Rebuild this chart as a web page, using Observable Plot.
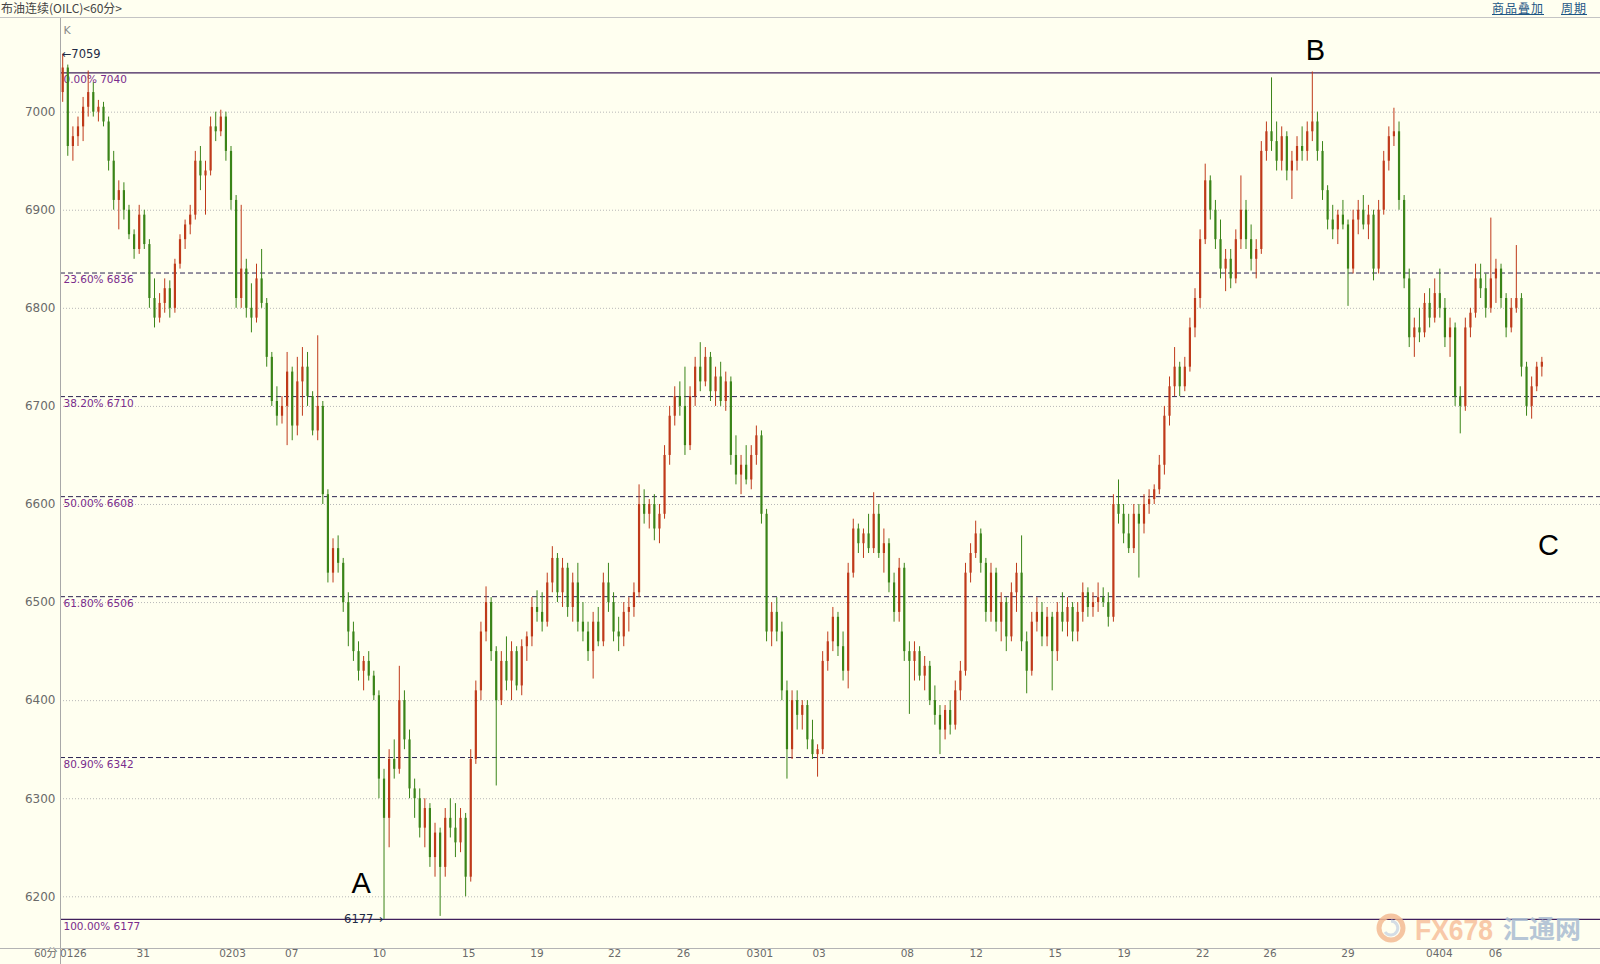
<!DOCTYPE html>
<html>
<head>
<meta charset="utf-8">
<script src="https://cdn.jsdelivr.net/npm/d3@7"></script>
<script src="https://cdn.jsdelivr.net/npm/@observablehq/plot@0.6"></script>
<style>
  html, body { margin: 0; padding: 0; background: #fffff0; }
  #wrap { position: relative; width: 1600px; height: 964px; background: #fffff0; overflow: hidden; }
  #hdr { position: absolute; left: 0; top: 0; width: 1600px; height: 17px; border-bottom: 1px solid #c4c4c4;
         font-family: "Noto Sans CJK SC", sans-serif; font-size: 12px; line-height: 16px; color: #444; }
  #title { position: absolute; left: 1px; top: 0; }
  .lnk { position: absolute; top: 0; color: #1e5685; text-decoration: underline; font-size: 12px; letter-spacing: 1px; }
  #chart { position: absolute; left: 0; top: 18px; }
  #vaxis { position: absolute; left: 60px; top: 18px; width: 1px; height: 946px; background: #a8a8a8; }
  #haxis { position: absolute; left: 0; top: 948px; width: 1600px; height: 1px; background: #b4b4b4; }
  #wm { position: absolute; left: 0; top: 0; pointer-events: none; }
</style>
</head>
<body>
<div id="wrap">
  <div id="hdr">
    <span id="title">布油连续(OILC)&lt;60分&gt;</span>
    <span class="lnk" style="left:1492px">商品叠加</span>
    <span class="lnk" style="left:1561px">周期</span>
  </div>
  <div id="chart"></div>
  <div id="vaxis"></div>
  <div id="haxis"></div>
  <svg id="wm" width="1600" height="964">
    <g opacity="0.85">
      <circle cx="1391" cy="928" r="12" fill="none" stroke="#f4bc94" stroke-width="5"/>
      <path d="M1391 921 A7 7 0 1 1 1385 932" fill="none" stroke="#cdd8e4" stroke-width="3"/>
      <text x="1415" y="940" font-family="Liberation Sans, sans-serif" font-weight="bold" font-size="30"
            fill="#f7c09c" textLength="78" lengthAdjust="spacingAndGlyphs">FX678</text>
      <text x="1503" y="938" font-family="Noto Sans CJK SC, sans-serif" font-weight="bold" font-size="25"
            fill="#aabdd2" textLength="78" lengthAdjust="spacingAndGlyphs">汇通网</text>
    </g>
  </svg>
</div>
<script>
// ---- data (Brent continuous, 60-minute candles, cents) ----
const opens = [
7020,7045,6965,6975,6985,7005,7020,7000,7005,6990,
6950,6910,6920,6900,6875,6860,6895,6865,6810,6790,
6805,6820,6800,6845,6870,6885,6895,6950,6935,6940,
6985,6980,6995,6960,6910,6810,6840,6800,6790,6830,
6805,6750,6705,6690,6700,6735,6680,6725,6740,6710,
6675,6700,6610,6530,6555,6540,6500,6470,6450,6430,
6440,6425,6405,6320,6280,6340,6330,6400,6360,6310,
6300,6270,6290,6240,6265,6230,6280,6270,6255,6280,
6220,6340,6410,6470,6500,6450,6400,6440,6420,6450,
6415,6455,6465,6495,6490,6480,6520,6545,6510,6535,
6495,6520,6480,6470,6450,6480,6460,6520,6500,6470,
6465,6490,6495,6510,6600,6590,6600,6575,6590,6650,
6690,6710,6700,6660,6710,6740,6725,6750,6715,6730,
6705,6725,6650,6630,6640,6625,6650,6670,6590,6470,
6490,6470,6410,6350,6400,6385,6395,6360,6345,6350,
6440,6460,6485,6455,6430,6530,6575,6560,6570,6555,
6590,6550,6560,6520,6490,6535,6450,6440,6450,6425,
6435,6400,6385,6370,6390,6375,6410,6430,6530,6550,
6570,6540,6490,6530,6480,6500,6465,6510,6530,6460,
6430,6480,6490,6465,6485,6450,6490,6480,6495,6470,
6490,6510,6495,6500,6505,6500,6485,6600,6590,6570,
6555,6590,6580,6600,6605,6615,6640,6690,6720,6740,
6720,6740,6780,6810,6870,6930,6900,6870,6840,6850,
6830,6870,6900,6870,6850,6860,6960,6980,6970,6950,
6975,6940,6950,6965,6960,6980,6990,6960,6920,6890,
6880,6895,6885,6840,6890,6900,6885,6895,6840,6900,
6950,6975,6980,6910,6830,6770,6780,6775,6805,6790,
6815,6800,6770,6780,6710,6700,6780,6795,6830,6820,
6800,6830,6840,6810,6780,6800,6810,6740,6700,6720,
6740];
const highs = [
7059,7048,6985,6995,7015,7042,7030,7012,7010,6995,
6960,6930,6928,6905,6880,6905,6900,6870,6830,6815,
6830,6828,6850,6875,6890,6905,6960,6965,6950,6995,
7000,7002,7000,6965,6915,6905,6850,6825,6845,6860,
6810,6755,6720,6710,6755,6740,6750,6760,6755,6715,
6772,6705,6615,6565,6568,6545,6510,6480,6460,6445,
6450,6430,6410,6330,6350,6360,6435,6410,6370,6320,
6310,6300,6295,6275,6270,6290,6300,6295,6290,6285,
6350,6420,6480,6516,6505,6455,6450,6465,6460,6455,
6462,6470,6505,6512,6510,6530,6557,6550,6545,6540,
6530,6540,6500,6480,6490,6495,6530,6540,6510,6485,
6500,6505,6520,6620,6615,6605,6610,6600,6660,6700,
6720,6725,6740,6720,6750,6765,6760,6755,6740,6745,
6735,6730,6670,6650,6660,6660,6680,6675,6595,6500,
6505,6480,6420,6410,6410,6400,6400,6380,6355,6450,
6470,6495,6490,6470,6540,6585,6580,6575,6590,6612,
6600,6575,6565,6530,6545,6540,6460,6460,6455,6445,
6440,6415,6395,6395,6400,6420,6440,6540,6560,6583,
6575,6545,6540,6535,6510,6505,6520,6540,6568,6470,
6490,6505,6500,6495,6490,6500,6510,6505,6500,6500,
6520,6515,6510,6520,6515,6510,6610,6625,6600,6590,
6600,6600,6610,6615,6620,6650,6700,6730,6760,6745,
6750,6790,6820,6880,6947,6935,6910,6890,6860,6860,
6880,6935,6910,6885,6870,6970,6990,7035,6990,6985,
6980,6960,6975,6985,6990,7041,7000,6970,6925,6905,
6900,6910,6890,6900,6910,6915,6905,6900,6910,6960,
6985,7004,6990,6915,6840,6790,6800,6815,6820,6830,
6840,6810,6790,6785,6720,6790,6800,6845,6845,6835,
6892,6850,6845,6815,6810,6864,6815,6745,6730,6745,
6750];
const lows = [
7010,6955,6950,6965,6970,6995,6995,6990,6985,6940,
6900,6880,6890,6870,6850,6855,6860,6800,6780,6785,
6795,6790,6795,6840,6860,6875,6890,6920,6895,6935,
6970,6975,6950,6900,6800,6800,6790,6775,6785,6800,
6740,6700,6680,6682,6660,6665,6670,6690,6700,6670,
6665,6600,6520,6520,6530,6490,6455,6440,6420,6410,
6420,6400,6300,6177,6250,6320,6325,6350,6300,6280,
6260,6250,6230,6220,6180,6220,6260,6240,6245,6200,
6215,6335,6400,6460,6440,6313,6395,6410,6400,6410,
6405,6440,6455,6480,6470,6475,6510,6500,6495,6485,
6480,6470,6460,6440,6422,6455,6455,6490,6460,6450,
6455,6470,6485,6505,6580,6575,6563,6560,6585,6640,
6680,6690,6650,6655,6700,6715,6720,6705,6700,6700,
6695,6640,6620,6610,6620,6615,6640,6580,6460,6455,
6460,6400,6320,6340,6370,6370,6350,6340,6322,6345,
6430,6450,6445,6420,6412,6525,6550,6545,6550,6550,
6545,6530,6510,6480,6480,6440,6386,6420,6420,6410,
6395,6375,6345,6360,6365,6370,6400,6425,6520,6545,
6530,6480,6480,6470,6460,6450,6460,6490,6450,6407,
6425,6470,6455,6455,6410,6440,6470,6465,6460,6460,
6480,6485,6485,6490,6495,6475,6480,6580,6560,6550,
6550,6525,6570,6590,6600,6610,6630,6680,6710,6710,
6715,6735,6770,6800,6865,6890,6860,6830,6817,6820,
6825,6860,6860,6838,6830,6855,6950,6960,6940,6940,
6930,6911,6940,6950,6950,6970,6950,6910,6880,6870,
6865,6880,6802,6835,6875,6880,6870,6828,6835,6895,
6940,6965,6900,6820,6760,6750,6765,6770,6780,6785,
6790,6760,6750,6700,6672,6695,6770,6790,6810,6790,
6795,6805,6800,6770,6775,6795,6730,6690,6687,6715,
6730];
const closes = [
7045,6965,6975,6985,7005,7020,7000,7005,6990,6950,
6910,6920,6900,6875,6860,6895,6865,6810,6790,6805,
6820,6800,6845,6870,6885,6895,6950,6935,6940,6985,
6980,6995,6960,6910,6810,6840,6800,6790,6830,6805,
6750,6705,6690,6700,6735,6680,6725,6740,6710,6675,
6700,6610,6530,6555,6540,6500,6470,6450,6430,6440,
6425,6405,6320,6280,6340,6330,6400,6360,6310,6300,
6270,6290,6240,6265,6230,6280,6270,6255,6280,6220,
6340,6410,6470,6500,6450,6400,6440,6420,6450,6415,
6455,6465,6495,6490,6480,6520,6545,6510,6535,6495,
6520,6480,6470,6450,6480,6460,6520,6500,6470,6465,
6490,6495,6510,6600,6590,6600,6575,6590,6650,6690,
6710,6700,6660,6710,6740,6725,6750,6715,6730,6705,
6725,6650,6630,6640,6625,6650,6670,6590,6470,6490,
6470,6410,6350,6400,6385,6395,6360,6345,6350,6440,
6460,6485,6455,6430,6530,6575,6560,6570,6555,6590,
6550,6560,6520,6490,6535,6450,6440,6450,6425,6435,
6400,6385,6370,6390,6375,6410,6430,6530,6550,6570,
6540,6490,6530,6480,6500,6465,6510,6530,6460,6430,
6480,6490,6465,6485,6450,6490,6480,6495,6470,6490,
6510,6495,6500,6505,6500,6485,6600,6590,6570,6555,
6590,6580,6600,6605,6615,6640,6690,6720,6740,6720,
6740,6780,6810,6870,6930,6900,6870,6840,6850,6830,
6870,6900,6870,6850,6860,6960,6980,6970,6950,6975,
6940,6950,6965,6960,6980,6990,6960,6920,6890,6880,
6895,6885,6840,6890,6900,6885,6895,6840,6900,6950,
6975,6980,6910,6830,6770,6780,6775,6805,6790,6815,
6800,6770,6780,6710,6700,6780,6795,6830,6820,6800,
6830,6840,6810,6780,6800,6810,6740,6700,6720,6740,
6745];

// date tick labels and the candle position they sit at
const dayLabels = ["0126","31","0203","07","10","15","19","22","26","0301","03","08","12","15","19","22","26","29","0404","06"];
const dayPos    = [2.1, 15.8, 33.3, 44.9, 62.1, 79.6, 93.0, 108.2, 121.7, 136.7, 148.3, 165.6, 179.1, 194.6, 208.1, 223.5, 236.7, 252.0, 269.9, 280.9];

// price axis ticks
const yTicks = [6200, 6300, 6400, 6500, 6600, 6700, 6800, 6900, 7000];

// Fibonacci retracement levels between 7040 (B) and 6177 (A)
const fibPct = ["0.00%", "23.60%", "38.20%", "50.00%", "61.80%", "80.90%", "100.00%"];
const fibVal = [7040, 6836, 6710, 6608, 6506, 6342, 6177];

// wave labels
const waveLabels = ["A", "B", "C"];
const wavePos    = [58.5, 245.6, 291.3];
const waveVal    = [6213, 7063, 6558];

// extreme markers
const maxMark = {i: 0, v: 7059, t: "\u21907059"};
const minMark = {i: 63, v: 6177, t: "6177\u2192"};

// ---- build ----
const candles = closes.map((c, i) => ({i, o: opens[i], h: highs[i], l: lows[i], c}));
const up = candles.filter(d => d.c >= d.o);
const dn = candles.filter(d => d.c < d.o);
const fib = fibVal.map((v, k) => ({v, label: fibPct[k] + " " + v, solid: k === 0 || k === fibVal.length - 1}));
const days = dayLabels.map((t, k) => ({t, i: dayPos[k]}));
const waves = waveLabels.map((t, k) => ({t, i: wavePos[k], v: waveVal[k]}));

const UP = "#bf3a1a", DN = "#3a8418";

const chart = Plot.plot({
  width: 1600,
  height: 946,
  marginLeft: 60,
  marginRight: 0,
  marginTop: 0,
  marginBottom: 16,
  x: {type: "linear", domain: [-0.43, 301.5], axis: null},
  y: {domain: [6147.3, 7095.5], axis: null},
  style: {background: "transparent", fontFamily: "DejaVu Sans, sans-serif", overflow: "visible"},
  marks: [
    Plot.ruleY(yTicks, {stroke: "#b8b8b8", strokeDasharray: "1,2", strokeWidth: 1}),
    Plot.ruleY(fib.filter(d => !d.solid), {y: "v", stroke: "#2c2452", strokeDasharray: "5,3", strokeWidth: 1}),
    Plot.ruleY(fib.filter(d => d.solid), {y: "v", stroke: "#40205c", strokeWidth: 1.2}),
    Plot.text(fib, {y: "v", text: "label", frameAnchor: "left", textAnchor: "start", dx: 3, dy: 7,
                    fill: "#7a2c8c", fontSize: 10.5, fontFamily: "DejaVu Sans"}),
    Plot.text(yTicks, {y: d => d, text: d => String(d), frameAnchor: "left", textAnchor: "end", dx: -5,
                       fill: "#6a6a6a", fontSize: 12}),
    Plot.text(days, {x: "i", text: "t", frameAnchor: "bottom", dy: 8, fill: "#6a6a6a", fontSize: 10.5}),
    Plot.text(["60分"], {frameAnchor: "bottom-left", textAnchor: "end", dx: -3, dy: 8, fill: "#6a6a6a", fontSize: 11,
                         fontFamily: "Noto Sans CJK SC"}),
    Plot.text(["K"], {frameAnchor: "top-left", textAnchor: "start", dx: 3, dy: 8, fill: "#8a8a8a", fontSize: 11}),
    // wicks
    Plot.ruleX(dn, {x: "i", y1: "l", y2: "h", stroke: DN, strokeWidth: 1}),
    Plot.ruleX(up, {x: "i", y1: "l", y2: "h", stroke: UP, strokeWidth: 1}),
    // bodies
    Plot.ruleX(dn, {x: "i", y1: "o", y2: "c", stroke: DN, strokeWidth: 2.2}),
    Plot.ruleX(up, {x: "i", y1: "o", y2: "c", stroke: UP, strokeWidth: 2.2}),
    // extremes
    Plot.text([maxMark], {x: "i", y: "v", text: "t", textAnchor: "start", dx: -1, fill: "#1e2a44", fontSize: 11.5}),
    Plot.text([minMark], {x: "i", y: "v", text: "t", textAnchor: "end", dx: -1, fill: "#1e2a44", fontSize: 11.5}),
    // wave letters
    Plot.text(waves, {x: "i", y: "v", text: "t", fill: "#000", fontSize: 29, fontFamily: "Liberation Sans"})
  ]
});
document.getElementById("chart").appendChild(chart);
</script>
</body>
</html>
